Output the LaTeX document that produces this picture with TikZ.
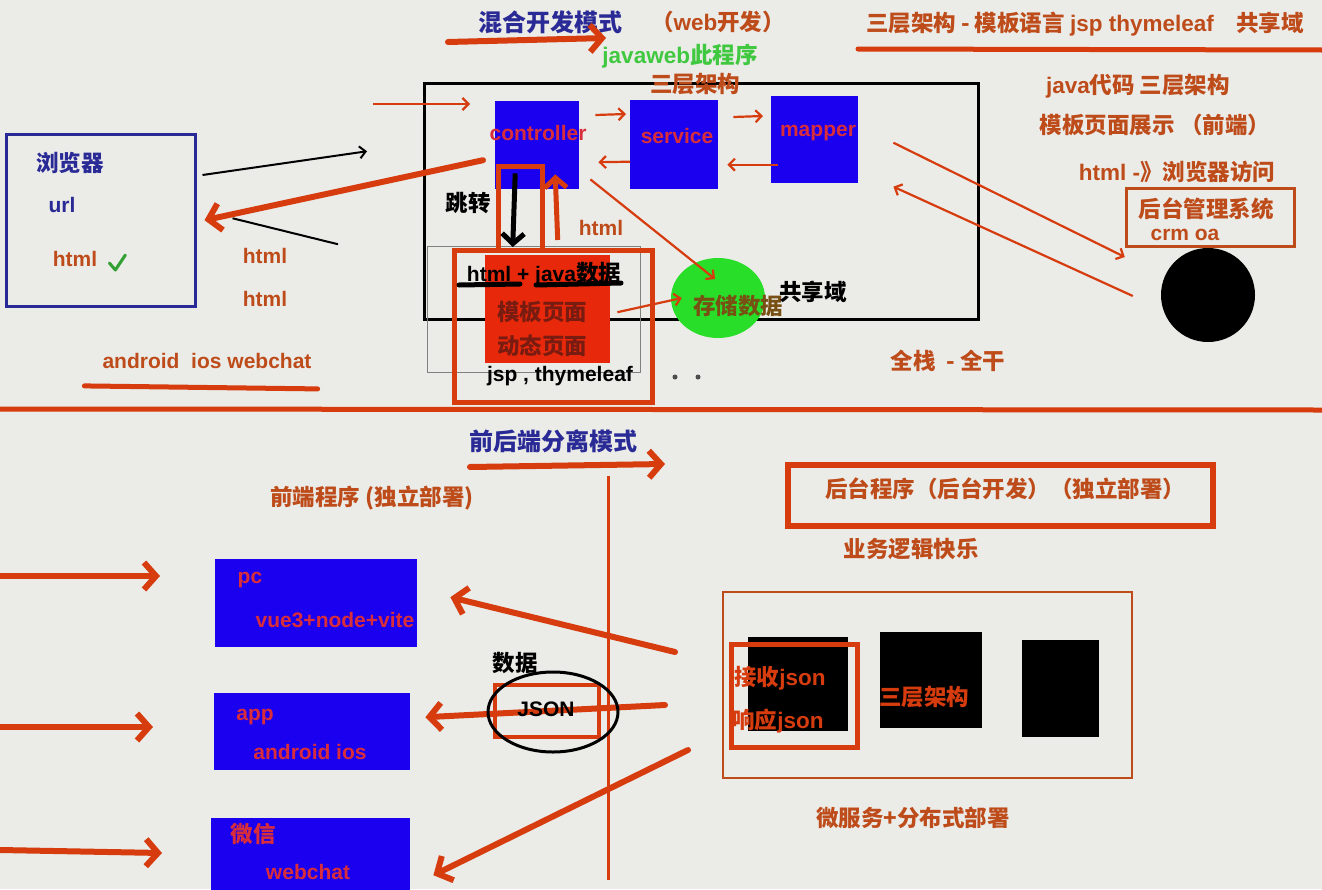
\documentclass[tikz,border=0pt]{standalone}
\usepackage{fontspec}
\setmainfont{Noto Sans CJK SC}
\newfontfamily\latinfont{Liberation Sans}
\usepackage{tikz}
\usetikzlibrary{calc}
\usetikzlibrary{arrows.meta, positioning, shapes.geometric}

\definecolor{bgcol}{RGB}{235,235,232}
\definecolor{arrowred}{RGB}{214,60,14}
\definecolor{txtbrown}{RGB}{190,76,26}
\definecolor{titleblue}{RGB}{42,42,150}
\definecolor{boxblue}{RGB}{26,0,238}
\definecolor{tagred}{RGB}{216,46,60}
\definecolor{pagered}{RGB}{232,40,10}
\definecolor{pagetext}{RGB}{120,28,18}
\definecolor{leafgreen}{RGB}{40,222,40}
\definecolor{webgreen}{RGB}{64,200,64}
\definecolor{storetext}{RGB}{120,80,20}

\begin{document}
\begin{tikzpicture}[
  x=1pt, y=-1pt,
  every node/.style={inner sep=0pt, font=\bfseries\fontsize{22.5}{25}\selectfont},
  lat/.style={font=\latinfont\bfseries\fontsize{21}{24}\selectfont},
  note/.style={text=txtbrown},
  heading/.style={text=titleblue, font=\bfseries\fontsize{24}{27}\selectfont},
  tagtext/.style={lat, text=tagred},
  bigarrow/.style={line width=6pt, draw=arrowred, line cap=round,
                   -{Straight Barb[length=12pt, width=27pt]}},
  thinarrow/.style={line width=2.2pt, draw=arrowred,
                   -{Straight Barb[length=6pt, width=12pt]}},
  blackarrow/.style={line width=2pt, draw=black,
                   -{Straight Barb[length=6pt, width=12pt]}},
  bluebox/.style={fill=boxblue, anchor=north west},
  blackbox/.style={fill=black, anchor=north west},
  redframe/.style={draw=arrowred, line width=5pt, anchor=north west},
  underline/.style={draw=arrowred, line width=5pt, line cap=round}
]
\useasboundingbox (0,0) rectangle (1322,889);
\fill[bgcol] (0,0) rectangle (1322,889);

%% ── 混合开发模式 : titres ──────────────────────────────────────
\node[heading] (mixtitle) at (550,22) {混合开发模式};
\coordinate (mixa) at (448,42);
\coordinate (mixb) at (606,38);
\draw[bigarrow] (mixa) -- (mixb);
\node[note] (webdev) at (718,22) {（{\latinfont web}开发）};
\node[text=webgreen] (jweb) at (680,56) {{\latinfont javaweb}此程序};
\node[note] (stacknote) at (1085,24)
  {三层架构 - 模板语言 {\latinfont jsp thymeleaf}\quad 共享域};
\coordinate (ula) at (858,49);
\coordinate (ulb) at (1322,50);
\draw[underline] (ula) -- (ulb);

%% ── Noeuds : application web ───────────────────────────────────
\node[draw, line width=2.5pt, minimum width=554pt, minimum height=236pt,
  anchor=north west] (webapp) at (423,82) {};
\node[note] (layers) at (695,84) {三层架构};
\coordinate (ina) at (373,104);
\draw[thinarrow] (ina) -- ($(webapp.north west)+(47,22)$);

\node[bluebox, minimum width=84pt, minimum height=88pt] (ctrl) at (495,101) {};
\node[tagtext] (ctrltxt) at (538,133) {controller};
\node[bluebox, minimum width=88pt, minimum height=89pt] (svc) at (630,100) {};
\node[tagtext] (svctxt) at (677,136) {service};
\node[bluebox, minimum width=87pt, minimum height=87pt] (mapper) at (771,96) {};
\node[tagtext] (mappertxt) at (818,133) {mapper};

\draw[thinarrow] ($(ctrl.north east)+(16,14)$) -- ($(svc.north west)+(-4,14)$);
\draw[thinarrow] ($(svc.west)+(0,17)$) -- ($(ctrl.east)+(19,17)$);
\draw[thinarrow] ($(svc.north east)+(15,17)$) -- ($(mapper.north west)+(-8,20)$);
\draw[thinarrow] ($(mapper.west)+(7,25)$) -- ($(svc.east)+(9,20)$);

%% ── Navigateur ─────────────────────────────────────────────────
\node[draw=titleblue, line width=2.5pt, minimum width=189pt,
  minimum height=172pt, anchor=north west] (browser) at (5,133) {};
\node[text=titleblue] (brtitle) at (70,163) {浏览器};
\node[lat, text=titleblue] (url) at (62,205) {url};
\node[lat, note] (brhtml) at (75,259) {html};
\draw[webgreen!80!black, line width=3pt, line cap=round, line join=round]
  ($(brhtml.east)+(12,4)$) -- ++(6,7) -- ++(10,-15);

\draw[blackarrow] ($(browser.north east)+(6,42)$) -- ($(webapp.west)+(-56,-50)$);
\draw[line width=2pt] ($(webapp.west)+(-85,43)$) -- ($(browser.east)+(36,-2)$);
\draw[bigarrow] ($(ctrl.west)+(-12,15)$) -- ($(browser.east)+(8,0)$);
\node[lat, note] (html1) at (265,256) {html};
\node[lat, note] (html2) at (265,299) {html};

%% ── Page modele ────────────────────────────────────────────────
\node (jump) at (468,203) {跳转};
\node[draw=gray, line width=1pt, minimum width=213pt, minimum height=126pt,
  anchor=north west] (grayframe) at (427,246) {};
\node[fill=pagered, minimum width=125pt, minimum height=108pt,
  anchor=north west] (tpl) at (485,255) {};
\node[redframe, minimum width=198pt, minimum height=152pt] (tplframe) at (452,248) {};
\node[redframe, minimum width=44pt, minimum height=84pt] (jumpframe) at (496,164) {};

\draw[line width=5pt, -{Straight Barb[length=10pt, width=22pt]}]
  ($(ctrl.south)+(-22,-16)$) -- ($(tpl.north)+(-35,-8)$);
\draw[line width=5pt, draw=arrowred, -{Straight Barb[length=10pt, width=22pt]}]
  ($(tpl.north)+(10,-15)$) -- ($(ctrl.south)+(18,-15)$);
\node[lat, note] (html3) at (601,228) {html};

\node (tplhead) at (544,274) {{\latinfont\fontsize{21}{24}\selectfont html + java}数据};
\draw[line width=5pt, line cap=round] (459,285) -- (520,284);
\draw[line width=5pt, line cap=round] (536,285) -- (621,283);
\node[text=pagetext] (tplname) at (542,312) {模板页面};
\node[text=pagetext] (tpldyn) at (542,346) {动态页面};
\node[lat] (tpleng) at (560,376) {jsp , thymeleaf};
\fill[black!70] (675,377) circle (2.5) (698,377) circle (2.5);

%% ── Domaine partage ────────────────────────────────────────────
\node[ellipse, fill=leafgreen, minimum width=94pt, minimum height=80pt] (store) at (718,298) {};
\node[text=storetext] (storetxt) at (738,306) {存储数据};
\node (shared) at (813,292) {共享域};
\draw[thinarrow] ($(ctrl.south east)+(11,-10)$) -- ($(store.center)+(-3,-19)$);
\draw[thinarrow] ($(tpl.east)+(7,3)$) -- ($(store.west)+(11,0)$);

%% ── Cote droit : back-office ───────────────────────────────────
\node[note] (javacode) at (1138,86) {{\latinfont java}代码 三层架构};
\node[note] (tplshow) at (1155,125) {模板页面展示 （前端）};
\node[note] (brvisit) at (1177,172) {{\latinfont html -}》浏览器访问};
\node[draw=txtbrown, line width=2.5pt, minimum width=168pt, minimum height=58pt,
  anchor=north west] (admin) at (1125,187) {};
\node[note] (admintxt) at (1206,209) {后台管理系统};
\node[lat, note] (crm) at (1185,235) {crm oa};
\node[circle, fill=black, minimum size=94pt] (client) at (1208,295) {};
\draw[thinarrow] ($(mapper.east)+(35,3)$) -- ($(client.west)+(-36,-38)$);
\draw[thinarrow] ($(client.west)+(-28,1)$) -- ($(mapper.east)+(35,47)$);
\node[note] (fullstack) at (948,361) {全栈\ \ - 全干};
\node[lat, note] (mobile) at (207,361) {android\ \ ios webchat};
\draw[underline] ($(mobile.south west)+(-18,17)$) -- ($(mobile.south east)+(6,20)$);
\coordinate (sepa) at (0,409);
\coordinate (sepb) at (1322,410);
\draw[underline, line cap=butt] (sepa) -- (sepb);

%% ── 前后端分离模式 ─────────────────────────────────────────────
\node[heading] (sptitle) at (553,441) {前后端分离模式};
\coordinate (spa) at (470,467);
\coordinate (spb) at (665,464);
\draw[bigarrow] (spa) -- (spb);
\coordinate (splita) at (608,476);
\coordinate (splitb) at (608,880);
\draw[draw=arrowred, line width=3pt] (splita) -- (splitb);
\node[note] (fronttitle) at (372,498) {前端程序 (独立部署)};

%% ── Clients ────────────────────────────────────────────────────
\node[bluebox, minimum width=202pt, minimum height=88pt] (pc) at (215,559) {};
\node[tagtext] (pctxt) at (250,580) {pc};
\node[tagtext] (pcstack) at (335,620) {vue3+node+vite};
\node[bluebox, minimum width=196pt, minimum height=77pt] (app) at (214,693) {};
\node[tagtext] (apptxt) at (255,717) {app};
\node[tagtext] (appos) at (310,752) {android ios};
\node[bluebox, minimum width=199pt, minimum height=75pt] (wx) at (211,818) {};
\node[text=tagred] (wxtxt) at (253,834) {微信};
\node[tagtext] (wxname) at (308,872) {webchat};

\coordinate (pcin) at (0,576);
\coordinate (appin) at (0,727);
\coordinate (wxin) at (0,850);
\draw[bigarrow] (pcin) -- ($(pc.north west)+(-55,17)$);
\draw[bigarrow] (appin) -- ($(app.north west)+(-61,34)$);
\draw[bigarrow] (wxin) -- ($(wx.north west)+(-49,35)$);

\coordinate (pcsrc) at (675,652);
\coordinate (appsrc) at (665,705);
\coordinate (wxsrc) at (688,750);
\draw[bigarrow] (pcsrc) -- ($(pc.east)+(33,-6)$);
\draw[bigarrow] (appsrc) -- ($(app.east)+(15,-14.5)$);
\draw[bigarrow] (wxsrc) -- ($(wx.east)+(23,19.5)$);

%% ── JSON ───────────────────────────────────────────────────────
\node (datalabel) at (515,663) {数据};
\node[draw=arrowred, line width=4pt, minimum width=104pt, minimum height=52pt,
  anchor=north west] (jsonbox) at (493,683) {};
\node[ellipse, draw, line width=3pt, minimum width=130pt, minimum height=80pt]
  (jsonring) at (553,712) {};
\node[lat] (json) at (546,709) {JSON};

%% ── Back-end ───────────────────────────────────────────────────
\node[draw=arrowred, line width=6pt, minimum width=425pt, minimum height=61pt,
  anchor=north west] (backend) at (785,462) {};
\node[note] (backtxt) at (1005,489) {后台程序（后台开发）（独立部署）};
\node[note] (logic) at (911,549) {业务逻辑快乐};
\node[draw=txtbrown, line width=2pt, minimum width=409pt, minimum height=186pt,
  anchor=north west] (micro) at (722,591) {};
\node[blackbox, minimum width=100pt, minimum height=94pt] (svca) at (748,637) {};
\node[blackbox, minimum width=102pt, minimum height=96pt] (svcb) at (880,632) {};
\node[blackbox, minimum width=77pt, minimum height=97pt] (svcc) at (1022,640) {};
\node[redframe, minimum width=126pt, minimum height=103pt] (ioframe) at (729,642) {};
\node[text=arrowred] (recv) at (780,678) {接收{\latinfont json}};
\node[text=arrowred] (resp) at (778,721) {响应{\latinfont json}};
\node[text=arrowred] (svcbtxt) at (924,697) {三层架构};
\node[note] (microtxt) at (913,818) {微服务+分布式部署};

\end{tikzpicture}
\end{document}
